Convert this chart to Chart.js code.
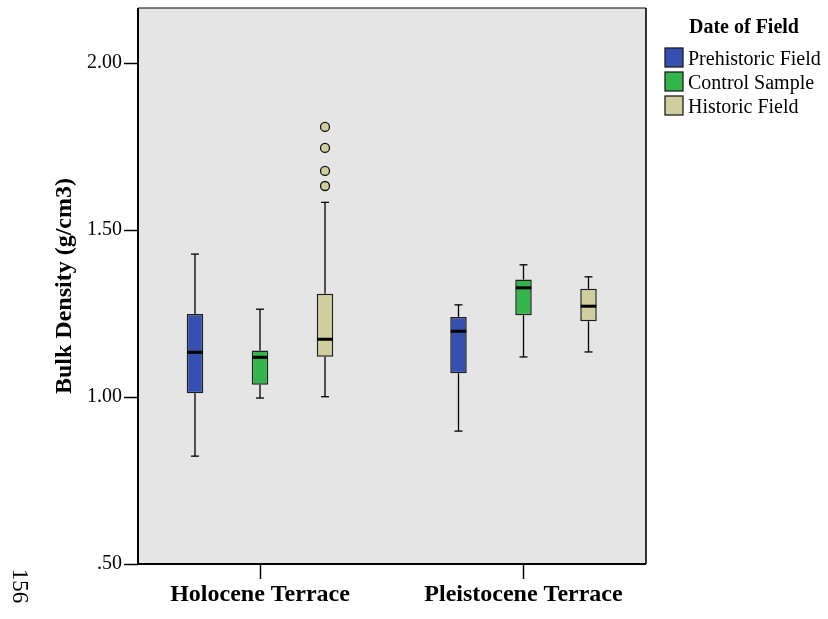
<!DOCTYPE html>
<html>
<head>
<meta charset="utf-8">
<script src="https://cdn.jsdelivr.net/npm/chart.js@4"></script>
<style>
html,body{margin:0;padding:0;background:#fff;}
#wrap{width:828px;height:619px;position:relative;}
</style>
</head>
<body>
<div id="wrap"><canvas id="c"></canvas></div>
<script>
// ---- data ----
const categories = ['Holocene Terrace', 'Pleistocene Terrace'];
const seriesNames = ['Prehistoric Field', 'Control Sample', 'Historic Field'];
const legendTitle = 'Date of Field';
const yAxisTitle = 'Bulk Density (g/cm3)';
const yTickValues = [0.5, 1.0, 1.5, 2.0];
const yTickLabels = ['.50', '1.00', '1.50', '2.00'];
const pageNumber = '156';

const prehistoricMin    = [0.823, 0.898];
const prehistoricQ1     = [1.011, 1.071];
const prehistoricMedian = [1.134, 1.197];
const prehistoricQ3     = [1.249, 1.240];
const prehistoricMax    = [1.428, 1.276];

const controlMin    = [0.997, 1.120];
const controlQ1     = [1.037, 1.245];
const controlMedian = [1.119, 1.327];
const controlQ3     = [1.139, 1.352];
const controlMax    = [1.263, 1.396];

const historicMin    = [1.001, 1.135];
const historicQ1     = [1.121, 1.227];
const historicMedian = [1.173, 1.272];
const historicQ3     = [1.309, 1.324];
const historicMax    = [1.583, 1.360];
const historicOutliersHolocene = [1.809, 1.746, 1.677, 1.632];

// ---- styling / layout ----
const seriesColors = ['#3550B0', '#33B54C', '#CFCE9C'];
const groupOffset = [-0.2467, 0, 0.2467];
const FONT = '"Liberation Serif", "Times New Roman", serif';

const stats = [
  {min: prehistoricMin, q1: prehistoricQ1, med: prehistoricMedian, q3: prehistoricQ3, max: prehistoricMax},
  {min: controlMin, q1: controlQ1, med: controlMedian, q3: controlQ3, max: controlMax},
  {min: historicMin, q1: historicQ1, med: historicMedian, q3: historicQ3, max: historicMax}
];

const datasets = seriesNames.map((name, s) => ({
  type: 'bar',
  label: name,
  data: categories.map((c, i) => ({x: i + 1 + groupOffset[s], y: [stats[s].q1[i], stats[s].q3[i]]})),
  backgroundColor: seriesColors[s],
  borderColor: '#1e1e1e',
  borderWidth: 1.5,
  borderSkipped: false,
  grouped: false,
  maxBarThickness: 16.5
}));
datasets.push({
  type: 'scatter',
  label: 'outliers',
  data: historicOutliersHolocene.map(v => ({x: 1 + groupOffset[2], y: v})),
  pointRadius: 4.5,
  pointHoverRadius: 4.5,
  pointBackgroundColor: seriesColors[2],
  pointBorderColor: '#111',
  pointBorderWidth: 1.3
});

Chart.defaults.font.family = FONT;
Chart.defaults.color = '#000';

const bgPlugin = {
  id: 'bg',
  beforeDraw(chart) {
    const {ctx, chartArea: a} = chart;
    ctx.save();
    ctx.fillStyle = '#e5e5e5';
    ctx.fillRect(a.left, a.top, a.right - a.left, a.bottom - a.top);
    ctx.restore();
  }
};

const whiskerPlugin = {
  id: 'whiskers',
  beforeDatasetsDraw(chart) {
    const ctx = chart.ctx, y = chart.scales.y;
    ctx.save();
    ctx.strokeStyle = '#000';
    ctx.lineWidth = 1.3;
    stats.forEach((st, s) => {
      const meta = chart.getDatasetMeta(s);
      meta.data.forEach((bar, i) => {
        const x = bar.x;
        const cap = 4;
        const pts = [[st.q3[i], st.max[i]], [st.q1[i], st.min[i]]];
        pts.forEach(([from, to]) => {
          ctx.beginPath();
          ctx.moveTo(x, y.getPixelForValue(from));
          ctx.lineTo(x, y.getPixelForValue(to));
          ctx.stroke();
          ctx.beginPath();
          ctx.moveTo(x - cap, y.getPixelForValue(to));
          ctx.lineTo(x + cap, y.getPixelForValue(to));
          ctx.stroke();
        });
      });
    });
    ctx.restore();
  },
  afterDatasetsDraw(chart) {
    const ctx = chart.ctx, y = chart.scales.y;
    ctx.save();
    ctx.strokeStyle = '#000';
    ctx.lineWidth = 3;
    stats.forEach((st, s) => {
      const meta = chart.getDatasetMeta(s);
      meta.data.forEach((bar, i) => {
        const py = y.getPixelForValue(st.med[i]);
        ctx.beginPath();
        ctx.moveTo(bar.x - bar.width / 2 + 0.5, py);
        ctx.lineTo(bar.x + bar.width / 2 - 0.5, py);
        ctx.stroke();
      });
    });
    ctx.restore();
  }
};

const framePlugin = {
  id: 'frame',
  afterDraw(chart) {
    const {ctx, chartArea: a} = chart;
    ctx.save();
    ctx.strokeStyle = '#000';
    ctx.lineWidth = 1.2;
    ctx.beginPath();
    ctx.moveTo(a.left, a.top); ctx.lineTo(a.right, a.top);
    ctx.stroke();
    ctx.lineWidth = 1.6;
    ctx.beginPath();
    ctx.moveTo(a.right, a.top); ctx.lineTo(a.right, a.bottom);
    ctx.stroke();
    ctx.lineWidth = 2;
    ctx.beginPath();
    ctx.moveTo(a.left, a.top); ctx.lineTo(a.left, a.bottom); ctx.lineTo(a.right, a.bottom);
    ctx.stroke();

    // legend
    const lx = a.right + 19;
    ctx.fillStyle = '#000';
    ctx.font = 'bold 20px ' + FONT;
    ctx.textAlign = 'center';
    ctx.textBaseline = 'alphabetic';
    ctx.fillText(legendTitle, a.right + 98, 33);
    ctx.font = '20px ' + FONT;
    ctx.textAlign = 'left';
    seriesNames.forEach((name, s) => {
      const by = 48 + 24 * s;
      ctx.fillStyle = seriesColors[s];
      ctx.fillRect(lx, by, 18, 19);
      ctx.strokeStyle = '#1e1e1e';
      ctx.lineWidth = 1.3;
      ctx.strokeRect(lx, by, 18, 19);
      ctx.fillStyle = '#000';
      ctx.fillText(name, lx + 23, by + 17);
    });

    // page number
    ctx.save();
    ctx.translate(13, 586);
    ctx.rotate(Math.PI / 2);
    ctx.font = '23px ' + FONT;
    ctx.textAlign = 'center';
    ctx.textBaseline = 'alphabetic';
    ctx.fillStyle = '#000';
    ctx.fillText(pageNumber, 0, 0);
    ctx.restore();
    ctx.restore();
  }
};

new Chart(document.getElementById('c'), {
  type: 'bar',
  data: {datasets},
  options: {
    responsive: true,
    maintainAspectRatio: false,
    animation: false,
    layout: {padding: {left: 0, right: 182, top: 8, bottom: 0}, autoPadding: false},
    plugins: {legend: {display: false}, tooltip: {enabled: false}},
    scales: {
      x: {
        type: 'linear',
        min: 0.537,
        max: 2.4649,
        offset: false,
        afterBuildTicks: s => { s.ticks = categories.map((c, i) => ({value: i + 1})); },
        afterFit: s => { s.height = 55; s.paddingLeft = 0; s.paddingRight = 0; },
        ticks: {
          callback: v => categories[Math.round(v) - 1],
          color: '#000',
          font: {size: 24, weight: 'bold'},
          padding: 1.5,
          maxRotation: 0,
          autoSkip: false
        },
        grid: {drawOnChartArea: false, offset: false, drawTicks: true, tickLength: 15, tickColor: '#000', tickWidth: 1.5},
        border: {display: false}
      },
      y: {
        type: 'linear',
        min: 0.5,
        max: 2.165,
        afterBuildTicks: s => { s.ticks = yTickValues.map(v => ({value: v})); },
        afterFit: s => { s.width = 138; s.paddingTop = 0; s.paddingBottom = 0; },
        ticks: {
          callback: v => yTickLabels[yTickValues.indexOf(v)],
          color: '#000',
          font: {size: 20},
          padding: 2,
          autoSkip: false
        },
        grid: {drawOnChartArea: false, drawTicks: true, tickLength: 14, tickColor: '#000', tickWidth: 1.5},
        border: {display: false},
        title: {
          display: true,
          text: yAxisTitle,
          color: '#000',
          font: {size: 24, weight: 'bold'},
          padding: {top: 50, bottom: 0}
        }
      }
    }
  },
  plugins: [bgPlugin, whiskerPlugin, framePlugin]
});
</script>
</body>
</html>
